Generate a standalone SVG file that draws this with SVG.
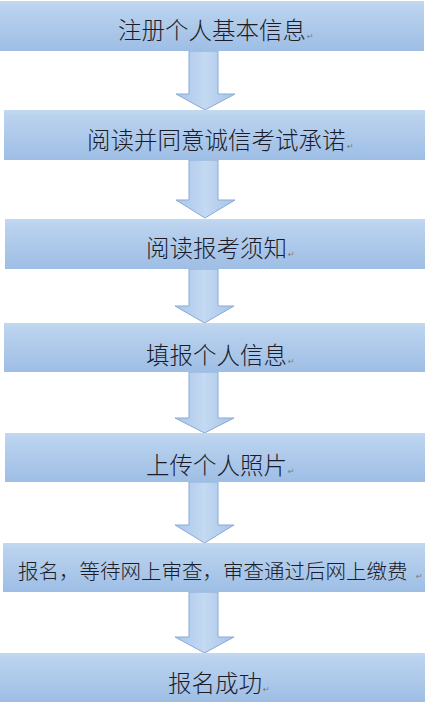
<svg xmlns="http://www.w3.org/2000/svg" width="425" height="702" viewBox="0 0 425 702">
<defs>
<linearGradient id="bg" x1="0" y1="0" x2="0" y2="1">
<stop offset="0" stop-color="#c3d9f1"/>
<stop offset="0.12" stop-color="#bad2ee"/>
<stop offset="1" stop-color="#9ebee5"/>
</linearGradient>
<linearGradient id="ag" x1="0" y1="0" x2="1" y2="0">
<stop offset="0" stop-color="#a9c6ea"/>
<stop offset="0.5" stop-color="#c4d9f2"/>
<stop offset="1" stop-color="#a6c3e8"/>
</linearGradient>
<style>
.box{fill:url(#bg);}
.t{font-family:"Noto Sans CJK SC","Noto Sans CJK JP",sans-serif;font-size:23.5px;font-weight:300;fill:#1c1c28;}
.t6{font-family:"Noto Sans CJK SC","Noto Sans CJK JP",sans-serif;font-size:20.5px;font-weight:300;fill:#1c1c28;}
.rm{font-family:"DejaVu Sans",sans-serif;font-size:8px;fill:#7a7a7a;}
.arr{fill:url(#ag);stroke:#88abd6;stroke-width:1;}
</style>
</defs>
<g id="connectors">
<path class="arr" d="M189,51 H218 V94 H235 L205,110 L176,94 H189 Z"/>
<path class="arr" d="M189,160 H218 V200 H235 L205,218 L176,200 H189 Z"/>
<path class="arr" d="M189,269 H218 V306 H234 L204.5,323 L175,306 H189 Z"/>
<path class="arr" d="M189,372 H218 V418 H234 L204.5,433 L175,418 H189 Z"/>
<path class="arr" d="M189,482 H218 V525 H234 L204.5,543 L175,525 H189 Z"/>
<path class="arr" d="M189,592 H218 V637 H234 L204.5,653 L175,637 H189 Z"/>
</g>
<g id="n1"><rect class="box" x="0" y="1" width="424" height="50"/><text class="t" x="118" y="39">注册个人基本信息</text><text class="rm" x="307" y="39">↵</text></g>
<g id="n2"><rect class="box" x="4" y="110" width="421" height="50"/><text class="t" x="87" y="149">阅读并同意诚信考试承诺</text><text class="rm" x="347" y="149">↵</text></g>
<g id="n3"><rect class="box" x="5" y="219" width="420" height="50"/><text class="t" x="146" y="257">阅读报考须知</text><text class="rm" x="288" y="257">↵</text></g>
<g id="n4"><rect class="box" x="4" y="323" width="421" height="49"/><text class="t" x="146" y="364">填报个人信息</text><text class="rm" x="288" y="364">↵</text></g>
<g id="n5"><rect class="box" x="5" y="433" width="420" height="49"/><text class="t" x="146" y="474">上传个人照片</text><text class="rm" x="288" y="474">↵</text></g>
<g id="n6"><rect class="box" x="3" y="543" width="422" height="49"/><text class="t6" x="18" y="579">报名，等待网上审查，审查通过后网上缴费</text><text class="rm" x="416" y="579">↵</text></g>
<g id="n7"><rect class="box" x="0" y="653" width="425" height="49"/><text class="t" x="168" y="692">报名成功</text><text class="rm" x="263" y="692">↵</text></g>
</svg>
